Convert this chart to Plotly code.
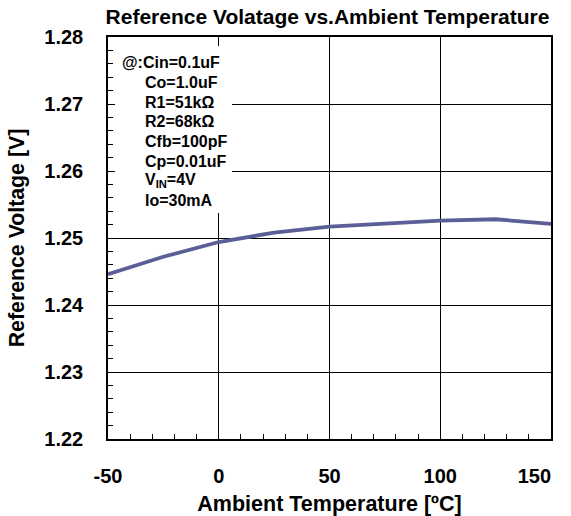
import plotly.graph_objects as go

temps = [-50, -25, 0, 25, 50, 75, 100, 125, 150]
vref = [1.2446, 1.2472, 1.2494, 1.2508, 1.2517, 1.2522, 1.2526, 1.2528, 1.2521]
x_ticks = [-50, 0, 50, 100, 150]
y_ticks = [1.22, 1.23, 1.24, 1.25, 1.26, 1.27, 1.28]
cond_first = "@:Cin=0.1uF"
cond_rest = ["Co=1.0uF", "R1=51kΩ", "R2=68kΩ", "Cfb=100pF", "Cp=0.01uF",
             "V<sub>IN</sub>=4V", "Io=30mA"]

FONT = "Liberation Sans, Arial, sans-serif"
W, H = 571, 516
# plot area in page pixels: x 108..551, y 37..439
L, T, R, B = 108, 37, 571 - 551, 516 - 439
PW, PH = W - L - R, H - T - B


def px(xp):
    return (xp - L) / PW


def py(yp):
    return 1 - (yp - T) / PH


xt_text = [f"<b>{v}</b>" for v in x_ticks]
xt_text[-1] = xt_text[-1] + "\u00a0" * 6

fig = go.Figure()
fig.add_trace(go.Scatter(x=temps, y=vref, mode="lines",
                         line=dict(color="#5b5f97", width=3.8), showlegend=False))

fig.update_layout(
    width=W, height=H,
    margin=dict(l=L, r=R, t=T, b=B, autoexpand=False),
    plot_bgcolor="white", paper_bgcolor="white",
    font=dict(family=FONT, size=20, color="black"),
    title=dict(text="<b>Reference Volatage vs.Ambient Temperature</b>",
               x=327.5 / W, xanchor="center", y=1 - 16.5 / H, yanchor="middle",
               font=dict(size=21, family=FONT, color="black")),
)

fig.update_xaxes(
    range=[-50, 150], tickvals=x_ticks, ticktext=xt_text, automargin=False,
    ticklabeloverflow="allow",
    showgrid=True, gridcolor="black", gridwidth=1,
    showline=True, linecolor="black", linewidth=1.5, mirror=True,
    ticks="inside", ticklen=6, tickcolor="black",
    minor=dict(dtick=10, ticks="inside", ticklen=5, tickcolor="black", showgrid=False),
    ticklabelstandoff=18, zeroline=False,
    title=dict(text="<b>Ambient Temperature [ºC]</b>", font=dict(size=21.5, family=FONT), standoff=10),
)
fig.update_yaxes(
    range=[1.22, 1.28], tickvals=y_ticks, ticktext=[f"<b>{v:.2f}</b>" for v in y_ticks],
    automargin=False, ticklabeloverflow="allow",
    showgrid=True, gridcolor="black", gridwidth=1,
    showline=True, linecolor="black", linewidth=1.5, mirror=True,
    ticks="inside", ticklen=6, tickcolor="black",
    minor=dict(dtick=0.002, ticks="inside", ticklen=5, tickcolor="black", showgrid=False),
    ticklabelstandoff=19, zeroline=False,
    title=dict(text="<b>Reference Voltage [V]</b>", font=dict(size=21.3, family=FONT), standoff=14),
)

# white box behind the condition text (leaves the left-axis ticks visible)
fig.add_shape(type="rect", xref="paper", yref="paper",
              x0=px(115), x1=px(232), y0=py(46), y1=py(213),
              fillcolor="white", line=dict(width=0), layer="above")

fig.add_annotation(text=f"<b>{cond_first}</b>", xref="paper", yref="paper",
                   x=px(120), y=py(62.5), xanchor="left", yanchor="middle",
                   showarrow=False, font=dict(size=16, family=FONT))
for i, t in enumerate(cond_rest):
    fig.add_annotation(text=f"<b>{t}</b>", xref="paper", yref="paper",
                       x=px(143), y=py(62.5 + 19.75 * (i + 1)), xanchor="left", yanchor="middle",
                       showarrow=False, font=dict(size=16, family=FONT))

fig.write_html("out.html", config={"displayModeBar": False},
               post_script="document.body.style.margin='0';")
